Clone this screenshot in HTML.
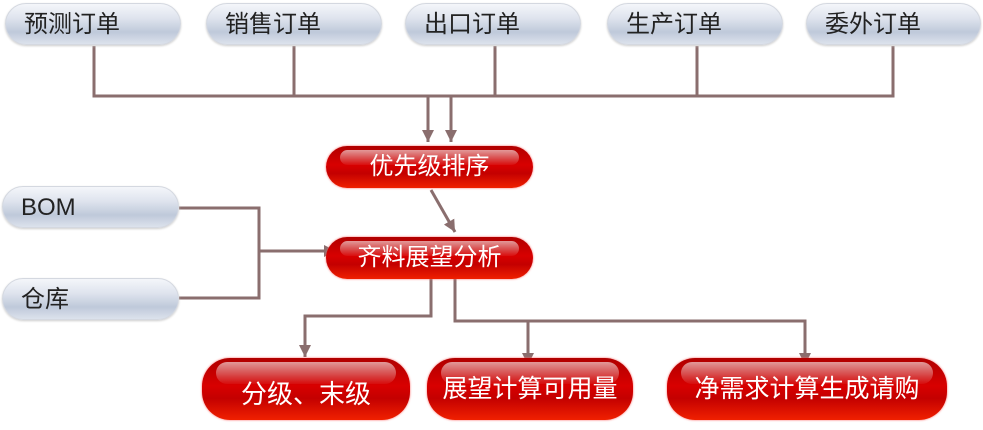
<!DOCTYPE html>
<html><head><meta charset="utf-8"><style>
body{margin:0;width:983px;height:422px;background:#fff;position:relative;overflow:hidden;font-family:"Liberation Sans","Noto Sans CJK SC",sans-serif}
.g{position:absolute;height:42px;border-radius:21px;border:1px solid #d4d8e0;box-sizing:border-box;
background:linear-gradient(#f4f6fa 0%,#dfe4ee 35%,#bfc9da 70%,#dce2ec 100%);box-shadow:0 1px 2px #ccc;
font-size:24px;color:#222;line-height:42px;padding-left:18px}
.r{position:absolute;border-radius:24px;box-sizing:border-box;color:#fff;text-align:center;font-size:24px;
background:linear-gradient(#b00000 0%,#d80000 45%,#c40000 65%,#f02000 100%);box-shadow:0 0 2px #f66}
.r::before{content:"";position:absolute;left:14px;right:14px;top:4px;height:35%;border-radius:14px;
background:linear-gradient(rgba(255,255,255,.6),rgba(255,255,255,.05))}
.r span{position:relative}
svg{position:absolute;left:0;top:0}
</style></head><body>
<svg width="983" height="422">
<defs><marker id="b" markerWidth="14" markerHeight="12" refX="12" refY="6" orient="auto" markerUnits="userSpaceOnUse"><path d="M0,0 L12,6 L0,12z" fill="#8a6e6e"/></marker></defs>
<g stroke="#8a6e6e" stroke-width="3" fill="none">
<polyline points="94,46 94,96 893,96 893,46"/>
<line x1="294" y1="46" x2="294" y2="96"/>
<line x1="495" y1="46" x2="495" y2="96"/>
<line x1="697" y1="46" x2="697" y2="96"/>
<line x1="428" y1="96" x2="428" y2="142" marker-end="url(#b)"/>
<line x1="451" y1="96" x2="451" y2="142" marker-end="url(#b)"/>
<line x1="431" y1="190" x2="455" y2="232" marker-end="url(#b)"/>
<polyline points="179,208 259,208 259,298 179,298"/>
<line x1="259" y1="251" x2="336" y2="251" marker-end="url(#b)"/>
<polyline points="431,278 431,316 305,316 305,357" marker-end="url(#b)"/>
<polyline points="455,278 455,321 805,321 805,365" marker-end="url(#b)"/>
<line x1="528" y1="321" x2="528" y2="365" marker-end="url(#b)"/>
</g></svg>
<div class="g" style="left:5px;top:3px;width:176px">预测订单</div>
<div class="g" style="left:206px;top:3px;width:176px">销售订单</div>
<div class="g" style="left:405px;top:3px;width:176px">出口订单</div>
<div class="g" style="left:607px;top:3px;width:176px">生产订单</div>
<div class="g" style="left:806px;top:3px;width:175px">委外订单</div>
<div class="g" style="left:2px;top:186px;width:177px">BOM</div>
<div class="g" style="left:2px;top:278px;width:177px">仓库</div>
<div class="r" style="left:326px;top:146px;width:207px;height:42px;line-height:42px"><span>优先级排序</span></div>
<div class="r" style="left:326px;top:237px;width:207px;height:42px;line-height:42px"><span>齐料展望分析</span></div>
<div class="r" style="left:202px;top:358px;width:208px;height:62px;line-height:72px;border-radius:28px;font-size:26px"><span>分级、末级</span></div>
<div class="r" style="left:427px;top:358px;width:206px;height:62px;line-height:62px;border-radius:28px;font-size:25px"><span>展望计算可用量</span></div>
<div class="r" style="left:667px;top:358px;width:280px;height:62px;line-height:62px;border-radius:28px;font-size:25px"><span>净需求计算生成请购</span></div>
</body></html>
